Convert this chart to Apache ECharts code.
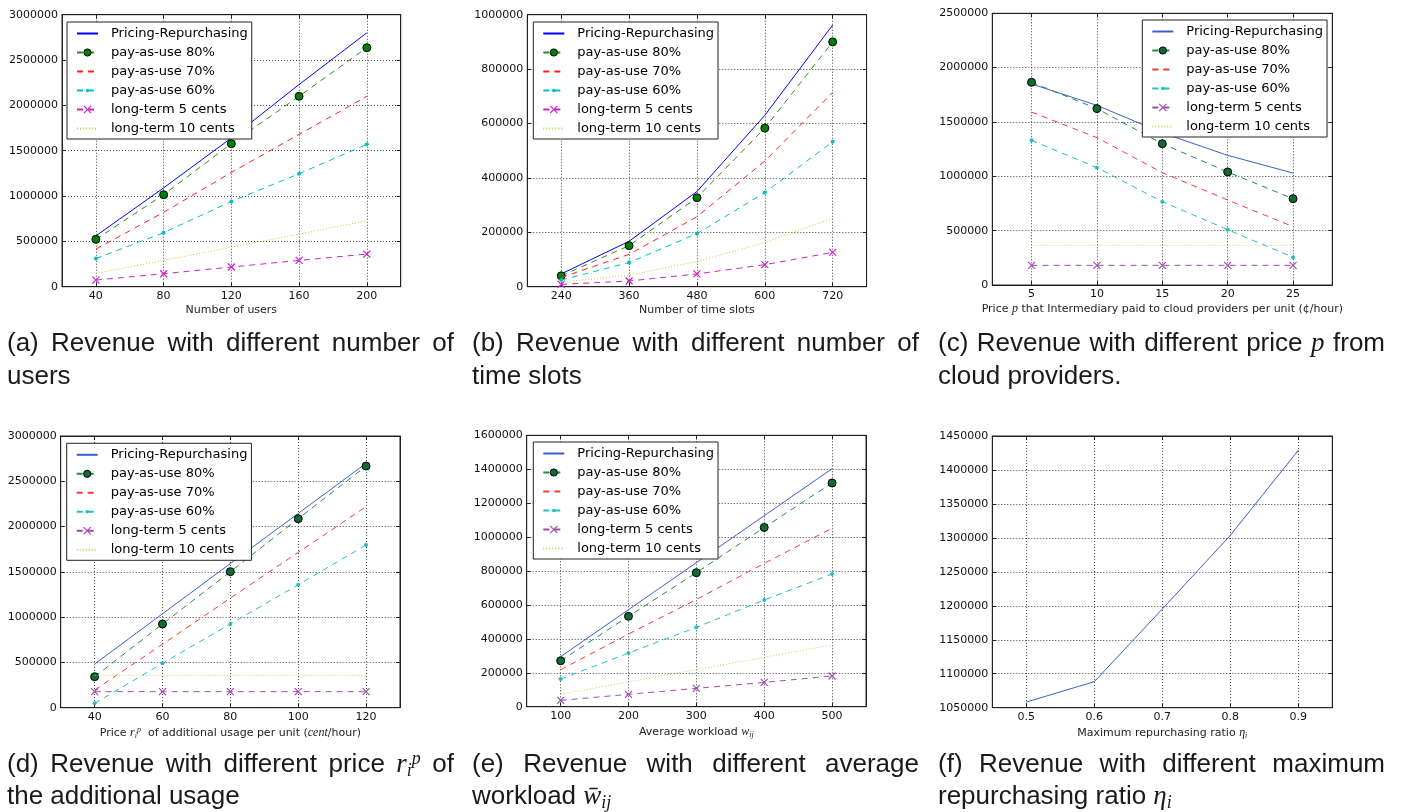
<!DOCTYPE html>
<html><head><meta charset="utf-8">
<script src="https://cdn.jsdelivr.net/npm/echarts@6/dist/echarts.min.js"></script>
<style>html,body{margin:0;padding:0;background:#fff}#c{width:1403px;height:812px}</style>
</head><body><div id="c"></div>
<script>
// ---------------- DATA ----------------
const seriesNames = ['Pricing-Repurchasing','pay-as-use 80%','pay-as-use 70%','pay-as-use 60%','long-term 5 cents','long-term 10 cents'];

// (a) number of users
const usersX        = [40, 80, 120, 160, 200];
const usersPricing  = [560000, 1090000, 1640000, 2230000, 2800000];
const usersPay80    = [522000, 1015000, 1577000, 2100000, 2636000];
const usersPay70    = [415000, 820000, 1260000, 1680000, 2100000];
const usersPay60    = [310000, 596000, 940000, 1246000, 1570000];
const usersLong5    = [73000, 143000, 217000, 290000, 360000];
const usersLong10   = [146000, 290000, 437000, 580000, 728000];

// (b) number of time slots
const slotsX        = [240, 360, 480, 600, 720];
const slotsPricing  = [47000, 167000, 350000, 630000, 962000];
const slotsPay80    = [40000, 151000, 327000, 583000, 900000];
const slotsPay70    = [34000, 119000, 257000, 462000, 714000];
const slotsPay60    = [24500, 89000, 195000, 346000, 533000];
const slotsLong5    = [8600, 21000, 47000, 81000, 126000];
const slotsLong10   = [17000, 42000, 93000, 162000, 252000];

// (c) price p from cloud providers
const priceX        = [5, 10, 15, 20, 25];
const pricePricing  = [1850000, 1653000, 1400000, 1193000, 1030000];
const pricePay80    = [1865000, 1623000, 1300000, 1040000, 794000];
const pricePay70    = [1592000, 1356000, 1034000, 782000, 537000];
const pricePay60    = [1331000, 1080000, 767000, 509000, 255000];
const priceLong5    = [181000, 181000, 181000, 181000, 181000];
const priceLong10   = [365000, 365000, 365000, 365000, 365000];

// (d) price of additional usage
const extraX        = [40, 60, 80, 100, 120];
const extraPricing  = [482000, 1037000, 1592000, 2145000, 2698000];
const extraPay80    = [342000, 924000, 1502000, 2087000, 2668000];
const extraPay70    = [195000, 700000, 1210000, 1715000, 2220000];
const extraPay60    = [48000, 490000, 924000, 1358000, 1796000];
const extraLong5    = [177000, 177000, 177000, 177000, 177000];
const extraLong10   = [357000, 357000, 357000, 357000, 357000];

// (e) average workload
const loadX         = [100, 200, 300, 400, 500];
const loadPricing   = [295000, 572000, 849000, 1126000, 1403000];
const loadPay80     = [271000, 533000, 790000, 1057000, 1319000];
const loadPay70     = [218000, 428000, 632000, 845000, 1052000];
const loadPay60     = [163000, 316000, 468000, 629000, 782000];
const loadLong5     = [37000, 73000, 108000, 143000, 181000];
const loadLong10    = [73000, 146000, 218000, 291000, 364000];

// (f) maximum repurchasing ratio
const ratioX        = [0.5, 0.6, 0.7, 0.8, 0.9];
const ratioPricing  = [1058300, 1088300, 1195300, 1303700, 1428900];

// y axis [min, max, step]
const yTicksA = [0, 3000000, 500000];
const yTicksB = [0, 1000000, 200000];
const yTicksC = [0, 2500000, 500000];
const yTicksD = [0, 3000000, 500000];
const yTicksE = [0, 1600000, 200000];
const yTicksF = [1050000, 1450000, 50000];

const xNames = [
  'Number of users',
  'Number of time slots',
  'Price {m|p} that Intermediary paid to cloud providers per unit (\u00a2/hour)',
  'Price {m|r}{sb|i}{sp|p}  of additional usage per unit ({m|cent}/hour)',
  'Average workload {m|w}{sb|ij}',
  'Maximum repurchasing ratio {m|\u03b7}{sb|i}'
];

const captions = [
  ['(a) Revenue with different number of', 'users'],
  ['(b) Revenue with different number of', 'time slots'],
  ['(c) Revenue with different price {m|p} from', 'cloud providers.'],
  ['(d) Revenue with different price {m|r}{sb|i}{sp|p} of', 'the additional usage'],
  ['(e) Revenue with different average', 'workload {m|w\u0304}{sb|ij}'],
  ['(f) Revenue with different maximum', 'repurchasing ratio {m|\u03b7}{sb|i}']
];

// ---------------- STYLE / LAYOUT ----------------
const palA = {blue:'#0000ff', green:'#008000', greenLine:'#2a8a2a', red:'#ff2020', cyan:'#00bfbf', mag:'#cc22cc', yel:'#c8c830'};
const palB = {blue:'#3a5fcb', green:'#0d6b33', greenLine:'#1f8a4a', red:'#f23a3a', cyan:'#22bfbf', mag:'#a04cb0', yel:'#cccc55'};
const XPATH = 'path://M0,0L10,10M10,0L0,10';
const DOTPATH = 'path://M0,0M10,10M2.5,5A2.5,2.5,0,1,1,7.5,5A2.5,2.5,0,1,1,2.5,5Z';

const panels = [
  {box:[62,14.7,338.7,272], xr:[20,220], xs:usersX, ys:[usersPricing,usersPay80,usersPay70,usersPay60,usersLong5,usersLong10], yt:yTicksA, pal:palA, leg:[67,22]},
  {box:[527.3,14.7,339.3,272], xr:[180,780], xs:slotsX, ys:[slotsPricing,slotsPay80,slotsPay70,slotsPay60,slotsLong5,slotsLong10], yt:yTicksB, pal:palA, leg:[533.3,22]},
  {box:[992.3,13.3,340,271.7], xr:[2,28], xs:priceX, ys:[pricePricing,pricePay80,pricePay70,pricePay60,priceLong5,priceLong10], yt:yTicksC, pal:palB, leg:[1142.3,20]},
  {box:[60.7,436,339.3,271.7], xr:[30,130], xs:extraX, ys:[extraPricing,extraPay80,extraPay70,extraPay60,extraLong5,extraLong10], yt:yTicksD, pal:palB, leg:[66.7,443.3]},
  {box:[526.7,435.3,339.3,271.4], xr:[50,550], xs:loadX, ys:[loadPricing,loadPay80,loadPay70,loadPay60,loadLong5,loadLong10], yt:yTicksE, pal:palB, leg:[533.3,442]},
  {box:[992.3,436,340,271.7], xr:[0.45,0.95], xs:ratioX, ys:[ratioPricing], yt:yTicksF, pal:palB, leg:null}
];

const serif = '"Liberation Serif", "DejaVu Serif", serif';
const axisRich = {
  m:{fontFamily:serif, fontStyle:'italic', fontSize:12, color:'#222'},
  sb:{fontFamily:serif, fontStyle:'italic', fontSize:8, color:'#222', padding:[6,0,0,0]},
  sp:{fontFamily:serif, fontStyle:'italic', fontSize:8, color:'#222', padding:[0,0,6,0]}
};

function seriesStyle(k, pal){
  switch(k){
    case 0: return {symbol:'none', noMark:true, lineStyle:{color:pal.blue, width:1, type:'solid'}, itemStyle:{color:pal.blue}};
    case 1: return {symbol:'circle', symbolSize:8, lineStyle:{color:pal.greenLine, width:1, type:[6,5]}, itemStyle:{color:pal.green, borderColor:'#000', borderWidth:1}};
    case 2: return {symbol:'none', noMark:true, lineStyle:{color:pal.red, width:1, type:[6,5]}, itemStyle:{color:pal.red}};
    case 3: return {symbol:DOTPATH, symbolSize:8, lineStyle:{color:pal.cyan, width:1, type:[6,5]}, itemStyle:{color:pal.cyan}};
    case 4: return {symbol:XPATH, symbolSize:7, lineStyle:{color:pal.mag, width:1, type:[6,5]}, itemStyle:{color:pal.mag, borderColor:pal.mag, borderWidth:1.2}};
    default: return {symbol:'none', noMark:true, lineStyle:{color:pal.yel, width:1, type:[1,2]}, itemStyle:{color:pal.yel}};
  }
}

const option = {animation:false, grid:[], xAxis:[], yAxis:[], series:[], legend:[], graphic:{elements:[]}};
const fmt = v => String(Math.round(v*100)/100);

panels.forEach((p, i) => {
  option.grid.push({left:p.box[0], top:p.box[1], width:p.box[2], height:p.box[3], show:true, borderColor:'#222', borderWidth:1, backgroundColor:'transparent'});
  const xi = option.xAxis.length;
  const tickStyle = {show:true, inside:true, length:4, lineStyle:{color:'#222'}};
  option.xAxis.push({gridIndex:i, type:'value', position:'bottom', min:p.xr[0], max:p.xr[1],
    axisLine:{show:true, onZero:false, lineStyle:{color:'#222'}},
    axisTick:Object.assign({customValues:p.xs}, tickStyle),
    axisLabel:{customValues:p.xs, margin:4, fontSize:11, color:'#111', fontFamily:'DejaVu Sans', formatter:fmt},
    splitLine:{show:true, lineStyle:{color:'#444', width:1, type:[1,2]}},
    name:xNames[i], nameLocation:'middle', nameGap:18,
    nameTextStyle:{fontSize:11, color:'#222', fontFamily:'DejaVu Sans', rich:axisRich}
  });
  option.xAxis.push({gridIndex:i, type:'value', position:'top', min:p.xr[0], max:p.xr[1],
    axisLine:{show:true, onZero:false, lineStyle:{color:'#222'}},
    axisTick:Object.assign({customValues:p.xs}, tickStyle),
    axisLabel:{show:false}, splitLine:{show:false}
  });
  const yi = option.yAxis.length;
  option.yAxis.push({gridIndex:i, type:'value', position:'left', min:p.yt[0], max:p.yt[1], interval:p.yt[2],
    axisLine:{show:true, onZero:false, lineStyle:{color:'#222'}},
    axisTick:tickStyle,
    axisLabel:{margin:4, fontSize:11, color:'#111', fontFamily:'DejaVu Sans', formatter:v=>String(v), showMinLabel:true, showMaxLabel:true},
    splitLine:{show:true, lineStyle:{color:'#444', width:1, type:[1,2]}}
  });
  option.yAxis.push({gridIndex:i, type:'value', position:'right', min:p.yt[0], max:p.yt[1], interval:p.yt[2],
    axisLine:{show:true, onZero:false, lineStyle:{color:'#222'}},
    axisTick:tickStyle, axisLabel:{show:false}, splitLine:{show:false}
  });
  p.ys.forEach((vals, k) => {
    const st = seriesStyle(k, p.pal);
    option.series.push({
      type:'line', name:seriesNames[k], xAxisIndex:xi, yAxisIndex:yi,
      data:p.xs.map((x, j) => [x, vals[j]]), symbol:st.symbol, symbolSize:st.symbolSize,
      showSymbol:!st.noMark, silent:true, lineStyle:st.lineStyle, itemStyle:st.itemStyle,
      emphasis:{disabled:true}, z:2+k*0.01
    });
  });
  if (p.leg) {
    option.legend.push({
      left:p.leg[0], top:p.leg[1], orient:'vertical', itemWidth:21, itemHeight:9, itemGap:6,
      padding:[5,4,4,9], backgroundColor:'#fff', borderColor:'#222', borderWidth:1, borderRadius:0,
      selectedMode:false, z:10,
      textStyle:{fontSize:13, color:'#000', fontFamily:'DejaVu Sans', padding:[0,0,0,8]},
      data:seriesNames.map((n, k) => {
        const st = seriesStyle(k, p.pal);
        const it = st.noMark ? {color:'rgba(0,0,0,0)', borderWidth:0, opacity:0} : Object.assign({}, st.itemStyle);
        return {name:n, itemStyle:it, lineStyle:{color:st.lineStyle.color}};
      })
    });
  }
});

// ---------------- CAPTIONS ----------------
const capFam = '"Liberation Sans", Arial, sans-serif';
const capRich = {
  t:{fontFamily:capFam, fontSize:26, color:'#1a1a1a'},
  m:{fontFamily:serif, fontStyle:'italic', fontSize:27, color:'#1a1a1a'},
  sb:{fontFamily:serif, fontStyle:'italic', fontSize:18, color:'#1a1a1a', padding:[12,0,0,0]},
  sp:{fontFamily:serif, fontStyle:'italic', fontSize:18, color:'#1a1a1a', padding:[0,0,12,0]}
};
const mctx = document.createElement('canvas').getContext('2d');
function parts(str){
  const out = []; const re = /\{(\w+)\|([^}]*)\}/g; let last = 0, m;
  while ((m = re.exec(str))) { if (m.index > last) out.push(['t', str.slice(last, m.index)]); out.push([m[1], m[2]]); last = re.lastIndex; }
  if (last < str.length) out.push(['t', str.slice(last)]);
  return out;
}
function richify(str){ return parts(str).map(([s, t]) => '{' + s + '|' + t + '}').join(''); }
function measure(str){
  let w = 0;
  parts(str).forEach(([s, t]) => { const r = capRich[s]; mctx.font = (r.fontStyle || 'normal') + ' ' + r.fontSize + 'px ' + r.fontFamily; w += mctx.measureText(t).width; });
  return w;
}
const capCols = [7, 472, 938];
const capWidth = 447;
const capRows = [[344, 377], [765, 797]];
captions.forEach((c, i) => {
  const x0 = capCols[i % 3]; const ys = capRows[Math.floor(i / 3)];
  const words = c[0].split(' ');
  const widths = words.map(measure);
  const gap = (capWidth - widths.reduce((a, b) => a + b, 0)) / (words.length - 1);
  let x = x0;
  words.forEach((w, j) => {
    option.graphic.elements.push({type:'text', x:x, y:ys[0], silent:true,
      style:{text:richify(w), rich:capRich, fill:'#1a1a1a', fontSize:26, fontFamily:capFam, align:'left', verticalAlign:'middle', textAlign:'left', textVerticalAlign:'middle'}});
    x += widths[j] + gap;
  });
  option.graphic.elements.push({type:'text', x:x0, y:ys[1], silent:true,
    style:{text:richify(c[1]), rich:capRich, fill:'#1a1a1a', fontSize:26, fontFamily:capFam, align:'left', verticalAlign:'middle', textAlign:'left', textVerticalAlign:'middle'}});
});

const chart = echarts.init(document.getElementById('c'), null, {renderer:'canvas'});
chart.setOption(option);
</script></body></html>
